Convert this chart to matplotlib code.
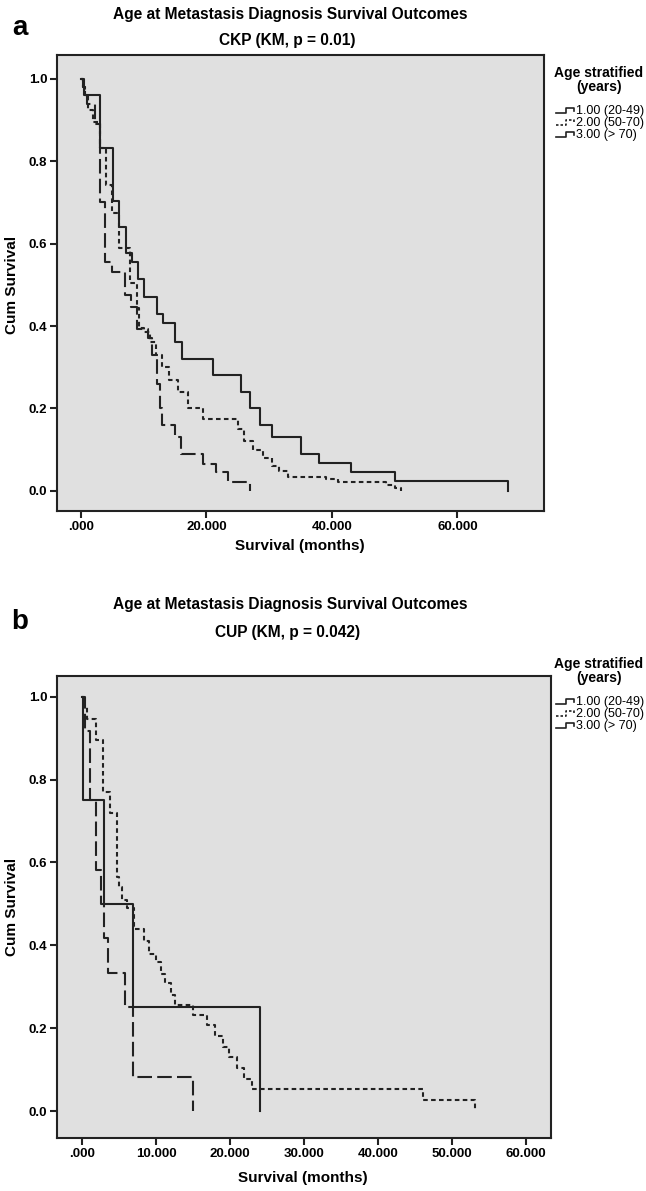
import matplotlib
matplotlib.use("Agg")
import matplotlib.pyplot as plt
from matplotlib.lines import Line2D

plt.rcParams['font.family'] = ['Liberation Sans', 'DejaVu Sans']
plt.rcParams['font.weight'] = 'bold'

# ---- data ----
group_labels = ["1.00 (20-49)", "2.00 (50-70)", "3.00 (> 70)"]

# panel a: CKP
ckp_t1 = [0, 0.5, 3.0, 5.1, 6.1, 7.2, 8.1, 9.1, 10.1, 12.1, 13.1, 15.0, 16.1, 21.0,
          25.5, 27.0, 28.5, 30.5, 35.1, 38.0, 43.0, 50.0, 68.0]
ckp_s1 = [1.0, 0.96, 0.833, 0.704, 0.641, 0.578, 0.556, 0.515, 0.471, 0.43, 0.408, 0.362,
          0.32, 0.28, 0.24, 0.20, 0.16, 0.131, 0.09, 0.068, 0.046, 0.024, 0.0]
ckp_t2 = [0, 0.3, 0.7, 1.1, 2.0, 3.0, 4.0, 5.0, 6.1, 7.8, 8.9, 9.2, 10.0, 11.0, 12.0, 13.0,
          14.0, 15.5, 17.0, 19.5, 25.0, 26.0, 27.5, 29.0, 30.5, 31.5, 33.0, 39.0, 41.0,
          48.6, 50.0, 51.0]
ckp_s2 = [1.0, 0.98, 0.96, 0.925, 0.895, 0.833, 0.743, 0.675, 0.59, 0.505, 0.445, 0.395,
          0.386, 0.362, 0.33, 0.30, 0.27, 0.24, 0.20, 0.175, 0.15, 0.12, 0.10, 0.08, 0.06,
          0.049, 0.034, 0.029, 0.022, 0.015, 0.008, 0.0]
ckp_t3 = [0, 0.3, 0.6, 1.0, 2.2, 3.0, 3.8, 4.9, 7.0, 8.0, 8.9, 10.7, 11.3, 12.2, 12.6, 13.0,
          15.0, 16.0, 19.5, 21.5, 23.5, 27.0]
ckp_s3 = [1.0, 0.98, 0.96, 0.94, 0.89, 0.70, 0.556, 0.53, 0.476, 0.447, 0.393, 0.37, 0.33,
          0.26, 0.20, 0.16, 0.13, 0.09, 0.065, 0.045, 0.022, 0.0]

# panel b: CUP
cup_t1 = [0, 0.1, 2.9, 6.9, 24.0]
cup_s1 = [1.0, 0.75, 0.5, 0.25, 0.0]
cup_t2 = [0, 0.3, 0.7, 1.9, 2.8, 3.8, 4.7, 5.0, 5.4, 6.0, 7.0, 8.3, 9.0, 10.0, 10.6, 11.2,
          12.0, 12.6, 15.0, 16.9, 17.9, 19.0, 19.9, 20.9, 21.9, 23.0, 46.1, 53.1]
cup_s2 = [1.0, 0.974, 0.947, 0.896, 0.771, 0.72, 0.566, 0.54, 0.51, 0.49, 0.44, 0.41, 0.38,
          0.36, 0.33, 0.31, 0.28, 0.256, 0.232, 0.208, 0.18, 0.155, 0.13, 0.104, 0.077,
          0.053, 0.027, 0.0]
cup_t3 = [0, 0.4, 1.0, 1.9, 2.5, 3.0, 3.5, 5.8, 6.9, 15.0]
cup_s3 = [1.0, 0.917, 0.75, 0.583, 0.5, 0.417, 0.333, 0.25, 0.083, 0.0]

ytick_vals = [0.0, 0.2, 0.4, 0.6, 0.8, 1.0]
ytick_labels = ["0.0", "0.2", "0.4", "0.6", "0.8", "1.0"]
a_xticks = [0, 20, 40, 60]
a_xlabels = [".000", "20.000", "40.000", "60.000"]
b_xticks = [0, 10, 20, 30, 40, 50, 60]
b_xlabels = [".000", "10.000", "20.000", "30.000", "40.000", "50.000", "60.000"]

W, H = 646, 1191
fig = plt.figure(figsize=(W / 100, H / 100), dpi=100)

styles = [dict(linestyle='-'), dict(linestyle=(0, (2.2, 1.6))), dict(linestyle=(0, (7, 2.5)))]
ink = '#222222'


def px(x, y):
    return x / W, 1 - y / H


def panel(rect, series, xlim, ylim, xticks, xlabels):
    ax = fig.add_axes(rect)
    ax.set_facecolor('#e0e0e0')
    for (t, s), st in zip(series, styles):
        ax.step(t, s, where='post', color=ink, lw=1.5, **st)
    ax.set_xlim(*xlim)
    ax.set_ylim(*ylim)
    ax.set_xticks(xticks)
    ax.set_xticklabels(xlabels)
    ax.set_yticks(ytick_vals)
    ax.set_yticklabels(ytick_labels)
    for sp in ax.spines.values():
        sp.set_linewidth(1.5)
        sp.set_color(ink)
    ax.tick_params(direction='out', length=5, width=1.5, labelsize=9.5, color=ink, pad=2)
    return ax


def legend(y_title):
    fig.text(*px(599, y_title), "Age stratified", ha='center', va='center', fontsize=10)
    fig.text(*px(599, y_title + 14), "(years)", ha='center', va='center', fontsize=10)
    for i, (lab, st) in enumerate(zip(group_labels, styles)):
        y = y_title + 38 + 12 * i
        xs = [556, 566, 566, 574, 574]
        ys = [y + 2, y + 2, y - 3, y - 3, y]
        fx = [v / W for v in xs]
        fy = [1 - v / H for v in ys]
        fig.add_artist(Line2D(fx, fy, transform=fig.transFigure, color=ink, lw=1.2,
                              **({'linestyle': (0, (1.5, 1.2))} if i == 1 else {})))
        fig.text(*px(576, y), lab, ha='left', va='center', fontsize=9, fontweight='normal')


# panel a
panel([57 / W, 1 - 511 / H, 487 / W, 456 / H],
      [(ckp_t1, ckp_s1), (ckp_t2, ckp_s2), (ckp_t3, ckp_s3)],
      (-3.8, 73.8), (-0.049, 1.058), a_xticks, a_xlabels)
fig.text(*px(20, 28), "a", fontsize=20, ha='center', va='center')
fig.text(*px(290, 14), "Age at Metastasis Diagnosis Survival Outcomes", fontsize=11.2,
         ha='center', va='center')
fig.text(*px(287, 41), "CKP (KM, p = 0.01)", fontsize=11.2, ha='center', va='center')
fig.text(*px(300, 546), "Survival (months)", fontsize=11, ha='center', va='center')
fig.text(*px(12, 285), "Cum Survival", fontsize=11, rotation=90, ha='center', va='center')
legend(73)

# panel b
panel([57 / W, 1 - 1138 / H, 494 / W, 462 / H],
      [(cup_t1, cup_s1), (cup_t2, cup_s2), (cup_t3, cup_s3)],
      (-3.4, 63.4), (-0.065, 1.05), b_xticks, b_xlabels)
fig.text(*px(20, 622), "b", fontsize=20, ha='center', va='center')
fig.text(*px(290, 604), "Age at Metastasis Diagnosis Survival Outcomes", fontsize=11.2,
         ha='center', va='center')
fig.text(*px(288, 632), "CUP (KM, p = 0.042)", fontsize=11.2, ha='center', va='center')
fig.text(*px(303, 1178), "Survival (months)", fontsize=11, ha='center', va='center')
fig.text(*px(12, 907), "Cum Survival", fontsize=11, rotation=90, ha='center', va='center')
legend(664)

fig.savefig("out.png", dpi=100)
